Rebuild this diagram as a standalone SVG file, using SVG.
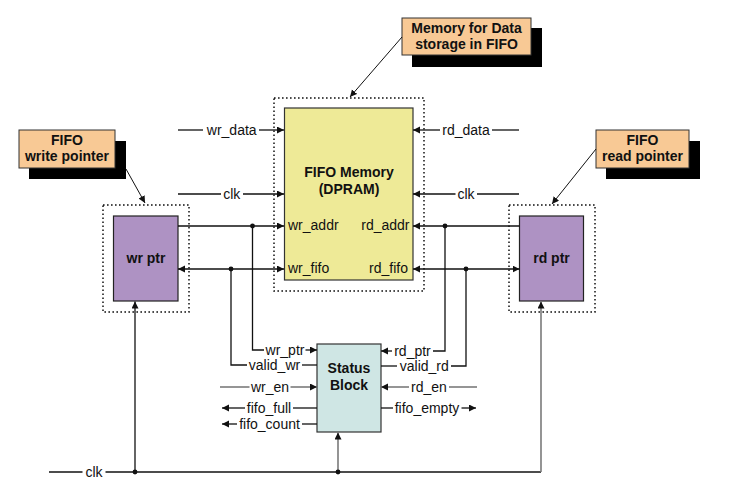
<svg xmlns="http://www.w3.org/2000/svg" width="730" height="495" viewBox="0 0 730 495">
<defs>
<marker id="ah" markerUnits="userSpaceOnUse" markerWidth="8" markerHeight="8" refX="7" refY="3.5" orient="auto">
<path d="M0,0 L7,3.5 L0,7 z" fill="#111"/>
</marker>
<marker id="ahs" markerUnits="userSpaceOnUse" markerWidth="8" markerHeight="8" refX="7" refY="3.5" orient="auto-start-reverse">
<path d="M0,0 L7,3.5 L0,7 z" fill="#111"/>
</marker>
</defs>
<style>
.w{stroke:#111;stroke-width:1.3;fill:none}
.g{stroke:#7a7a7a;stroke-width:1.6;fill:none}
.ld{stroke:#111;stroke-width:1;fill:none}
.dot{stroke:#111;stroke-width:1.5;fill:none;stroke-dasharray:1.6 2.4}
.sh{fill:#000}
.co{fill:#F8C995;stroke:#333;stroke-width:1}
.mem{fill:#EEEA97;stroke:#333;stroke-width:1.2}
.ptr{fill:#AE92C3;stroke:#222;stroke-width:1.2}
.st{fill:#CFE6E4;stroke:#333;stroke-width:1.2}
.b{font-family:"Liberation Sans",Arial,sans-serif;font-size:14px;font-weight:bold;fill:#111;text-anchor:middle}
.t{font-family:"Liberation Sans",Arial,sans-serif;font-size:14px;fill:#111;text-anchor:middle}
.tl{font-family:"Liberation Sans",Arial,sans-serif;font-size:14px;fill:#111;text-anchor:start}
.tr{font-family:"Liberation Sans",Arial,sans-serif;font-size:14px;fill:#111;text-anchor:end}
.jd{fill:#111}
</style>

<g id="callout-memory">
<rect class="sh" x="412" y="28" width="130" height="39"/>
<rect class="co" x="402" y="18" width="129" height="37"/>
<text class="b" x="466.5" y="33">Memory for Data</text>
<text class="b" x="466.5" y="49">storage in FIFO</text>
</g>

<g id="callout-write">
<rect class="sh" x="29" y="141" width="97" height="38"/>
<rect class="co" x="19" y="130" width="96" height="38"/>
<text class="b" x="67" y="145">FIFO</text>
<text class="b" x="67" y="161">write pointer</text>
</g>

<g id="callout-read">
<rect class="sh" x="606" y="141" width="94" height="38"/>
<rect class="co" x="596" y="130" width="93" height="38"/>
<text class="b" x="642.5" y="145">FIFO</text>
<text class="b" x="642.5" y="161">read pointer</text>
</g>

<g id="fifo-memory">
<rect class="dot" x="274" y="98" width="150" height="193"/>
<rect class="mem" x="284.5" y="108" width="128.5" height="172"/>
<text class="b" x="349" y="177">FIFO Memory</text>
<text class="b" x="349" y="194">(DPRAM)</text>
<text class="tl" x="288" y="230">wr_addr</text>
<text class="tr" x="409.5" y="230">rd_addr</text>
<text class="tl" x="288" y="273">wr_fifo</text>
<text class="tr" x="408" y="273">rd_fifo</text>
</g>

<g id="wr-ptr">
<rect class="dot" x="103" y="205" width="86" height="107"/>
<rect class="ptr" x="113.5" y="216" width="64.5" height="85"/>
<text class="b" x="146" y="263">wr ptr</text>
</g>

<g id="rd-ptr">
<rect class="dot" x="509" y="205" width="86" height="107"/>
<rect class="ptr" x="519.5" y="216" width="64" height="85"/>
<text class="b" x="551.5" y="263">rd ptr</text>
</g>

<g id="status-block">
<rect class="st" x="317" y="344" width="64" height="88"/>
<text class="b" x="349" y="373">Status</text>
<text class="b" x="349" y="390">Block</text>
</g>

<g id="connectors">
<!-- callout leaders -->
<line class="ld" x1="402" y1="37" x2="350" y2="97" marker-end="url(#ah)"/>
<line class="ld" x1="126" y1="169" x2="145" y2="203" marker-end="url(#ah)"/>
<line class="ld" x1="596" y1="149" x2="552" y2="204" marker-end="url(#ah)"/>

<!-- memory left inputs -->
<line class="w" x1="178" y1="130" x2="203" y2="130"/>
<text class="t" x="231.7" y="135">wr_data</text>
<line class="w" x1="259" y1="130" x2="284" y2="130" marker-end="url(#ah)"/>
<line class="w" x1="178" y1="194" x2="221" y2="194"/>
<text class="t" x="231.7" y="199">clk</text>
<line class="w" x1="243" y1="194" x2="284" y2="194" marker-end="url(#ah)"/>
<line class="w" x1="178" y1="226" x2="284" y2="226" marker-end="url(#ah)"/>
<line class="w" x1="178" y1="269" x2="284" y2="269" marker-start="url(#ahs)" marker-end="url(#ah)"/>
<circle class="jd" cx="252.5" cy="226" r="2.4"/>
<circle class="jd" cx="231" cy="269" r="2.4"/>

<!-- memory right inputs -->
<line class="w" x1="440" y1="130" x2="413" y2="130" marker-end="url(#ah)"/>
<text class="t" x="466" y="135">rd_data</text>
<line class="w" x1="492" y1="130" x2="519" y2="130"/>
<line class="w" x1="455.5" y1="194" x2="413" y2="194" marker-end="url(#ah)"/>
<text class="t" x="466" y="199">clk</text>
<line class="w" x1="477" y1="194" x2="519" y2="194"/>
<line class="w" x1="519.5" y1="226" x2="413" y2="226" marker-end="url(#ah)"/>
<line class="w" x1="413" y1="269" x2="519.5" y2="269" marker-start="url(#ahs)" marker-end="url(#ah)"/>
<circle class="jd" cx="445" cy="226" r="2.4"/>
<circle class="jd" cx="466" cy="269" r="2.4"/>

<!-- status block left -->
<path class="w" d="M252.5,226 V350 H264"/>
<text class="t" x="285" y="355">wr_ptr</text>
<line class="w" x1="305.5" y1="350" x2="317" y2="350" marker-end="url(#ah)"/>
<path class="w" d="M231,269 V365 H247"/>
<text class="t" x="274.5" y="370">valid_wr</text>
<line class="w" x1="302" y1="365" x2="317" y2="365"/>
<line class="g" x1="220" y1="387" x2="249.5" y2="387"/>
<text class="t" x="270" y="392">wr_en</text>
<line class="g" x1="290.5" y1="387" x2="317" y2="387" marker-end="url(#ah)"/>
<line class="w" x1="245" y1="408" x2="222" y2="408" marker-end="url(#ah)"/>
<text class="t" x="269" y="413">fifo_full</text>
<line class="w" x1="293" y1="408" x2="317" y2="408"/>
<line class="w" x1="237" y1="424" x2="222" y2="424" marker-end="url(#ah)"/>
<text class="t" x="269.5" y="429">fifo_count</text>
<line class="w" x1="302" y1="424" x2="317" y2="424"/>

<!-- status block right -->
<line class="w" x1="392" y1="351" x2="381" y2="351" marker-end="url(#ah)"/>
<text class="t" x="412.5" y="356">rd_ptr</text>
<path class="w" d="M433,351 H445 V226"/>
<line class="w" x1="381" y1="366" x2="397" y2="366"/>
<text class="t" x="424.3" y="371">valid_rd</text>
<path class="w" d="M451,366 H466 V269"/>
<line class="g" x1="409" y1="387" x2="381" y2="387" marker-end="url(#ah)"/>
<text class="t" x="429" y="392">rd_en</text>
<line class="g" x1="449" y1="387" x2="477" y2="387"/>
<line class="w" x1="381" y1="408" x2="393" y2="408"/>
<text class="t" x="427" y="413">fifo_empty</text>
<line class="w" x1="461.5" y1="408" x2="476" y2="408" marker-end="url(#ah)"/>

<!-- bottom clock -->
<line class="w" x1="49" y1="472" x2="82.5" y2="472"/>
<text class="t" x="94" y="477">clk</text>
<line class="w" x1="105.5" y1="472" x2="541" y2="472"/>
<line class="g" x1="541" y1="472" x2="541" y2="301.5" marker-end="url(#ah)"/>
<line class="w" x1="135" y1="472" x2="135" y2="301.5" marker-end="url(#ah)"/>
<line class="g" x1="338" y1="472" x2="338" y2="432.5" marker-end="url(#ah)"/>
<circle class="jd" cx="135" cy="472" r="2.4"/>
<circle class="jd" cx="338" cy="472" r="2.4"/>
</g>
</svg>
